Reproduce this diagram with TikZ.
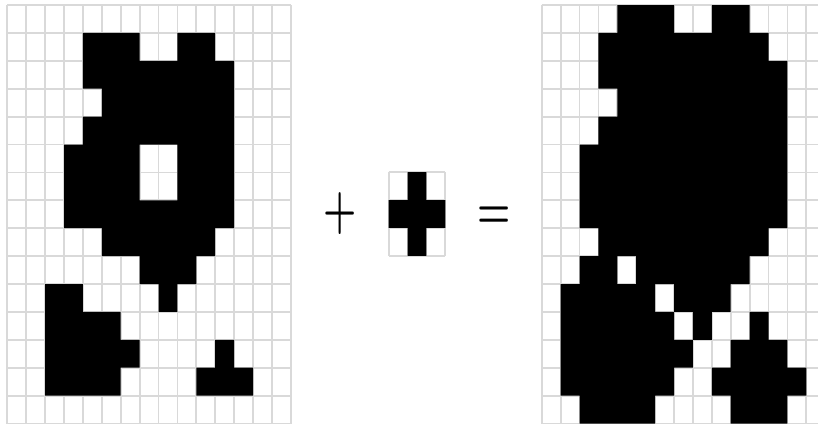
\documentclass[tikz,border=0pt]{standalone}
\usetikzlibrary{calc}
\tikzset{gridline/.style={black!15,line width=0.9pt}}
\tikzset{pixels/.style={fill=black}}
\tikzset{symbol/.style={font=\fontsize{19}{19}\selectfont\bfseries,inner sep=0pt,yscale=1.47,transform shape}}

\begin{document}
\begin{tikzpicture}[x=0.5pt,y=-0.5pt]
    \clip (0,0) rectangle (818,425);
    % image A
    \begin{scope}[shift={(7.3,5)},x=9.45pt,y=-13.95pt]
        \foreach \i in {0,...,15} \draw [gridline] (\i,0) -- (\i,15);
        \foreach \j in {0,...,15} \draw [gridline] (0,\j) -- (15,\j);
        \fill [pixels] \foreach \r/\a/\b in {1/4/6,1/9/10,2/4/11,3/5/11,4/4/11,5/3/6,5/9/11,6/3/6,6/9/11,
            7/3/11,8/5/10,9/7/9,10/2/3,10/8/8,11/2/5,12/2/6,12/11/11,13/2/5,13/10/12}
            {(\a,\r) rectangle (\b+1,\r+1)};
    \end{scope}
    % structuring element B
    \begin{scope}[shift={(388.65,172.15)},x=9.45pt,y=-13.95pt]
        \foreach \i in {0,...,3} \draw [gridline] (\i,0) -- (\i,3);
        \foreach \j in {0,...,3} \draw [gridline] (0,\j) -- (3,\j);
        \fill [pixels] (1,0) rectangle (2,3) (0,1) rectangle (3,2);
    \end{scope}
    % A dilated by B
    \begin{scope}[shift={(541.7,5)},x=9.45pt,y=-13.95pt]
        \foreach \i in {0,...,15} \draw [gridline] (\i,0) -- (\i,15);
        \foreach \j in {0,...,15} \draw [gridline] (0,\j) -- (15,\j);
        \fill [pixels] \foreach \r/\a/\b in {0/4/6,0/9/10,1/3/11,2/3/12,3/4/12,4/3/12,5/2/12,6/2/12,
            7/2/12,8/3/11,9/2/3,9/5/10,10/1/5,10/7/9,11/1/6,11/8/8,11/11/11,12/1/7,12/10/12,
            13/1/6,13/9/13,14/2/5,14/10/12}
            {(\a,\r) rectangle (\b+1,\r+1)};
    \end{scope}
    \node [symbol] (plus) at (340,214) {+};
    \node [symbol] (equals) at (494,218) {=};
\end{tikzpicture}
\end{document}
